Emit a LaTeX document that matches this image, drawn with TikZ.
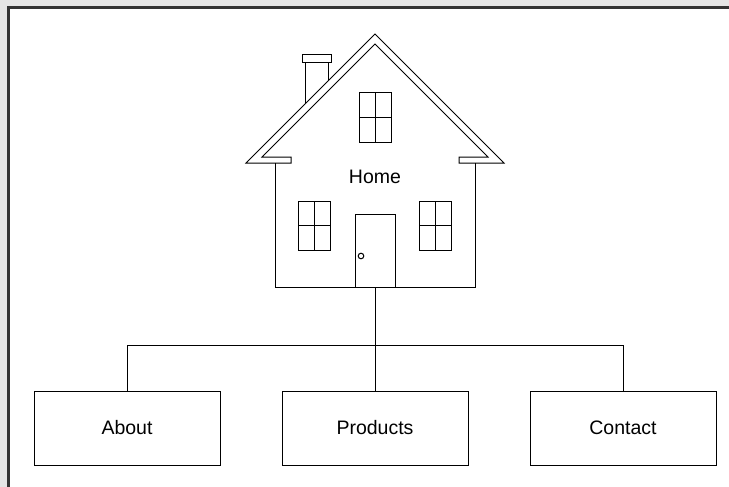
\documentclass[tikz,border=0pt]{standalone}
\usepackage{fontspec}
\setmainfont{Liberation Sans}
\usetikzlibrary{calc}

\definecolor{panelgray}{HTML}{E5E5E5}
\definecolor{framegray}{HTML}{333333}

\tikzset{
  lineart/.style={line width=1pt, black},
  pagebox/.style={draw, line width=1pt, minimum width=186pt, minimum height=74pt,
    font=\fontsize{19.5}{23}\selectfont, inner sep=0pt},
}

\begin{document}
\begin{tikzpicture}[x=1pt,y=-1pt]
\useasboundingbox (0,0) rectangle (729,487);
\fill[panelgray] (0,0) rectangle (729,487);
\fill[white] (8.5,7.5) rectangle (729,487);
\draw[framegray, line width=3pt] (729,7.5) -- (8.5,7.5) -- (8.5,487);

% roof with eaves
\draw[lineart, line join=miter] (375,34) -- (246,163) -- (291,163) -- (291,157) -- (262,157)
  -- (375,44) -- (488,157) -- (459,157) -- (459,163) -- (504,163) -- cycle;
% chimney
\draw[lineart] (302,55) rectangle (331,63);
\draw[lineart] (305,63) -- (305,104);
\draw[lineart] (328,63) -- (328,81);
% walls
\draw[lineart] (275,163) -- (275,287) -- (475,287) -- (475,163);
\coordinate (base) at (375,287);
% windows
\foreach \cx/\cy in {375/117.5, 314.5/225.5, 435.5/225.5}{
  \draw[lineart] (\cx-16,\cy-24.5) rectangle (\cx+16,\cy+24.5);
  \draw[lineart] (\cx,\cy-24.5) -- (\cx,\cy+24.5);
  \draw[lineart] (\cx-16,\cy) -- (\cx+16,\cy);
}
% door
\draw[lineart] (355,287) -- (355,214) -- (395,214) -- (395,287);
\draw[lineart] (361,256) circle (2.8pt);
\node[font=\fontsize{19.5}{23}\selectfont] (home) at (375,177) {Home};

% pages
\node[pagebox] (about) at (127,428) {About};
\node[pagebox] (products) at (375,428) {Products};
\node[pagebox] (contact) at (623,428) {Contact};
\coordinate (bus) at (375,345.5);

\draw[lineart] (base) -- (products.north);
\draw[lineart] (about.north) |- (bus) -| (contact.north);
\end{tikzpicture}
\end{document}
